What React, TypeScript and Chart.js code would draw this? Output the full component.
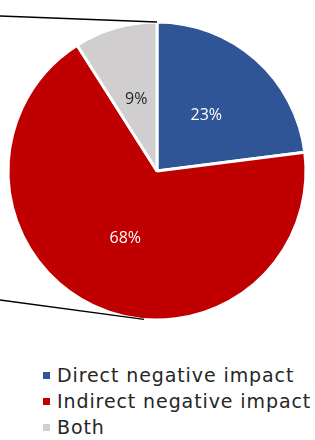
import React, { useEffect, useRef } from "react";
import { Chart, registerables } from "chart.js";

Chart.register(...registerables);

const categories = ["Direct negative impact", "Indirect negative impact", "Both"];
const shares = [23, 68, 9];
const sliceColors = ["#2F5597", "#C00000", "#D0CECE"];
const labelColors = ["#FFFFFF", "#FFFFFF", "#262626"];

const labelPlugin = {
  id: "pctLabels",
  afterDatasetsDraw(chart: any) {
    const meta = chart.getDatasetMeta(0);
    const ctx = chart.ctx;
    ctx.save();
    ctx.font = "16px 'Open Sans'";
    ctx.textAlign = "center";
    ctx.textBaseline = "middle";
    meta.data.forEach((arc: any, i: number) => {
      const p = arc.tooltipPosition();
      ctx.fillStyle = labelColors[i];
      ctx.fillText(shares[i] + "%", p.x, p.y);
    });
    ctx.restore();
  },
};

const connectorPlugin = {
  id: "connectors",
  afterDatasetsDraw(chart: any) {
    const arc = chart.getDatasetMeta(0).data[0];
    if (!arc) return;
    const { x, y, outerRadius } = arc;
    const ctx = chart.ctx;
    ctx.save();
    ctx.strokeStyle = "#000000";
    ctx.lineWidth = 1.3;
    ctx.beginPath();
    ctx.moveTo(0, y - outerRadius - 6);
    ctx.lineTo(x, y - outerRadius);
    const a = (185 * Math.PI) / 180;
    ctx.moveTo(0, y + outerRadius - 20);
    ctx.lineTo(x + outerRadius * Math.sin(a), y - outerRadius * Math.cos(a));
    ctx.stroke();
    ctx.restore();
  },
};

export default function App() {
  const ref = useRef<HTMLCanvasElement | null>(null);
  useEffect(() => {
    if (!ref.current) return;
    const chart = new Chart(ref.current, {
      type: "pie",
      data: {
        labels: categories,
        datasets: [
          {
            data: shares,
            backgroundColor: sliceColors,
            borderColor: "#FFFFFF",
            borderWidth: 3,
            hoverOffset: 0,
          },
        ],
      },
      options: {
        responsive: false,
        animation: false,
        events: [],
        radius: 149,
        layout: { padding: { left: 9, right: 10, top: 23, bottom: 21 } },
        plugins: {
          legend: { display: false },
          tooltip: { enabled: false },
        },
      } as any,
      plugins: [connectorPlugin, labelPlugin],
    });
    return () => chart.destroy();
  }, []);

  return (
    <div style={{ position: "absolute", left: 0, top: 0, width: 315, height: 440, background: "#fff" }}>
      <canvas ref={ref} width={315} height={340} style={{ display: "block" }} />
      <div
        style={{
          position: "absolute",
          left: 43,
          top: 362,
          fontFamily: "'DejaVu Sans', sans-serif",
          fontSize: 19,
          letterSpacing: "0.9px",
          lineHeight: "26px",
          color: "#262626",
          whiteSpace: "nowrap",
        }}
      >
        {categories.map((c, i) => (
          <div key={c} style={{ display: "flex", alignItems: "center" }}>
            <span
              style={{
                display: "inline-block",
                width: 7,
                height: 7,
                background: sliceColors[i],
                marginRight: 7,
              }}
            />
            <span>{c}</span>
          </div>
        ))}
      </div>
    </div>
  );
}
